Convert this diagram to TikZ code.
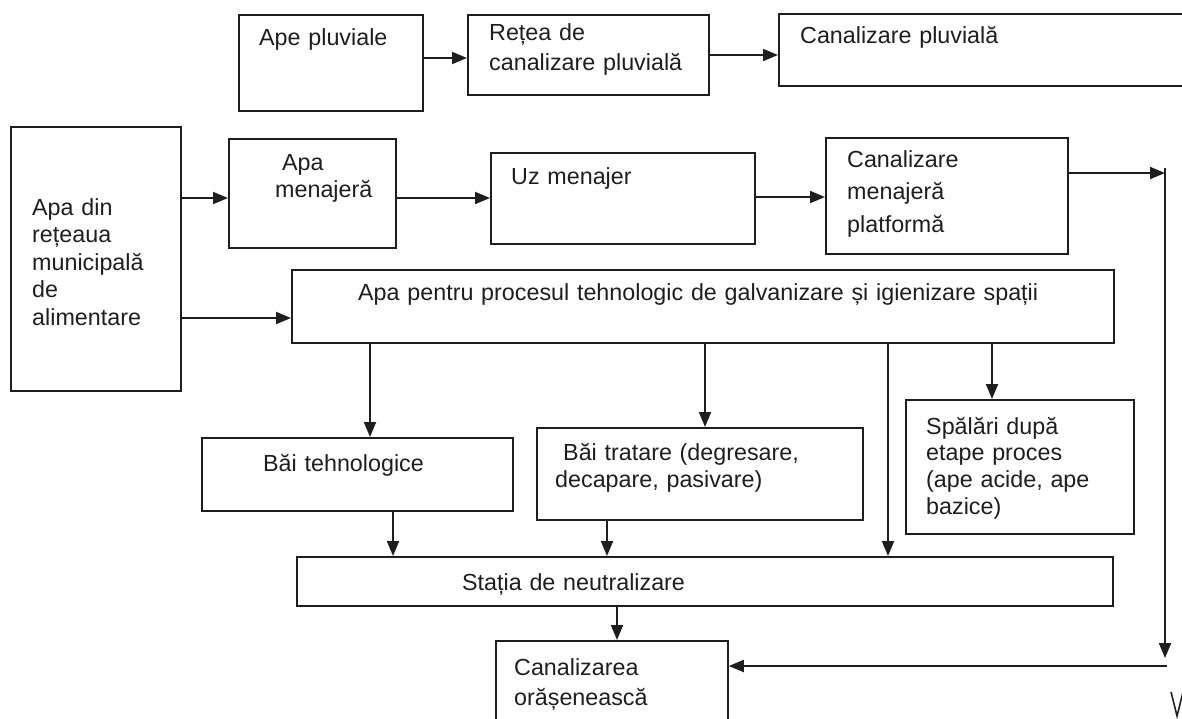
\documentclass[tikz,border=0pt]{standalone}
\usepackage{fontspec}
\setmainfont{Liberation Sans}
\usetikzlibrary{arrows.meta,calc}
\definecolor{ink}{RGB}{30,30,30}
\newcommand\mybox[5]{\node[box,minimum width={#4-#2},minimum height={#5-#3}] (#1) at (#2,#3) {};}
\begin{document}
\begin{tikzpicture}[x=1pt,y=-1pt,
  box/.style={draw=ink, line width=1.8pt, rectangle, inner sep=0pt, anchor=north west},
  txt/.style={text=ink, inner sep=0pt, anchor=base west, text width=400pt, align=left, font=\fontsize{23.3}{27.5}\selectfont},
  arr/.style={draw=ink, line width=1.9pt, -{Triangle[length=15pt,width=12pt]}},
]
\useasboundingbox (0,0) rectangle (1182,718);
% boxes
\mybox{ape}{238}{14}{422}{110}
\mybox{retea}{467}{14}{708}{94}
\mybox{canpluv}{778}{13}{1195}{85}
\mybox{apadin}{10}{126}{180}{390}
\mybox{apamen}{228}{138}{395}{247}
\mybox{uz}{490}{152}{754}{243}
\mybox{canmen}{825}{137}{1067}{253}
\mybox{proc}{291}{269}{1113}{342}
\mybox{baitehn}{201}{437}{512}{510}
\mybox{baitrat}{536}{427}{862}{519}
\mybox{spalari}{905}{399}{1133}{533}
\mybox{statia}{296}{556}{1112}{605}
\mybox{canoras}{495}{640}{727}{740}
% texts
\node[txt] (apeT) at (259,45) {Ape pluviale};
\node[txt, font=\fontsize{23.3}{30}\selectfont] (reteaT) at (489,40) {Rețea de\\canalizare pluvială};
\node[txt] (canpluvT) at (800,43) {Canalizare pluvială};
\node[txt] (apadinT) at (32,215) {Apa din\\rețeaua\\municipală\\de\\alimentare};
\node[txt] (apamenT) at (275,170) {\hspace*{7pt}Apa\\menajeră};
\node[txt] (uzT) at (511,184) {Uz menajer};
\node[txt, font=\fontsize{23.3}{32.5}\selectfont] (canmenT) at (847,167) {Canalizare\\menajeră\\platformă};
\node[txt, text width=800pt] (procT) at (358,300) {Apa pentru procesul tehnologic de galvanizare și igienizare spații};
\node[txt] (baitehnT) at (263,471) {Băi tehnologice};
\node[txt] (baitratT) at (555,460) {\hspace*{8pt}Băi tratare (degresare,\\decapare, pasivare)};
\node[txt, font=\fontsize{23.3}{26.7}\selectfont] (spalariT) at (926,434) {Spălări după\\etape proces\\(ape acide, ape\\bazice)};
\node[txt] (statiaT) at (462,590) {Stația de neutralizare};
\node[txt, font=\fontsize{23.3}{30}\selectfont] (canorasT) at (514,675) {Canalizarea\\orășenească};
% connectors
\draw[arr] (ape.east |- 0,58) -- (retea.west |- 0,58);
\draw[arr] (retea.east |- 0,55) -- (canpluv.west |- 0,55);
\draw[arr] (apadin.east |- 0,198) -- (apamen.west |- 0,198);
\draw[arr] (apamen.east |- 0,198) -- (uz.west |- 0,198);
\draw[arr] (uz.east |- 0,197) -- (canmen.west |- 0,197);
\coordinate (rtop) at (1165,173);
\coordinate (rtopend) at (1165,168);
\coordinate (rbot) at (1165,658);
\coordinate (rcorner) at (1167,666);
\draw[arr] (canmen.east |- rtop) -- (rtop);
\draw[arr] (rtopend) -- (rbot);
\draw[arr] (rcorner) -- (canoras.east |- rcorner);
\draw[arr] (apadin.east |- 0,318) -- (proc.west |- 0,318);
\draw[arr] (proc.south -| 370,0) -- (baitehn.north -| 370,0);
\draw[arr] (proc.south -| 705,0) -- (baitrat.north -| 705,0);
\draw[arr] (proc.south -| 888,0) -- (statia.north -| 888,0);
\draw[arr] (proc.south -| 992,0) -- (spalari.north -| 992,0);
\draw[arr] (baitehn.south -| 393,0) -- (statia.north -| 393,0);
\draw[arr] (baitrat.south -| 607,0) -- (statia.north -| 607,0);
\draw[arr] (statia.south -| 617,0) -- (canoras.north -| 617,0);
% stray mark at bottom right
\draw[ink, line width=1.6pt] (1171,692) -- (1177,716) -- (1183,692);
\end{tikzpicture}
\end{document}
